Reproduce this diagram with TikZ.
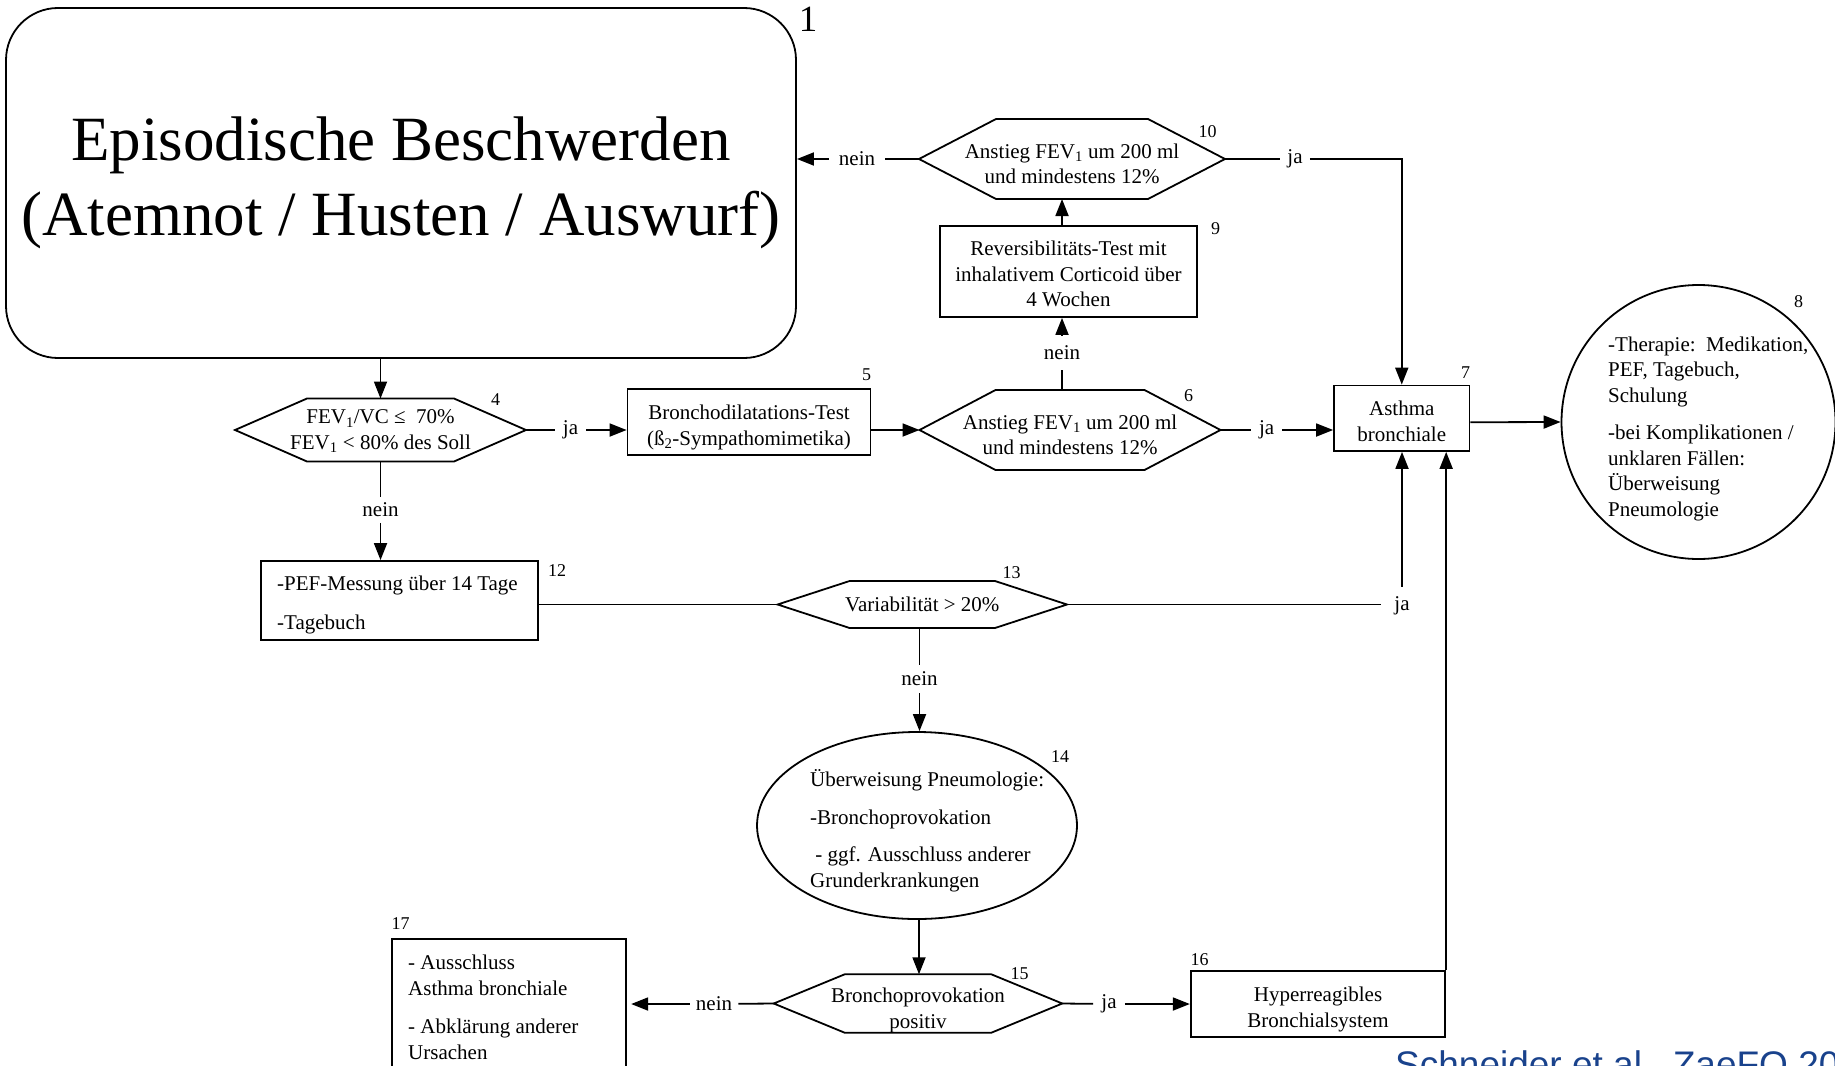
\documentclass[tikz,border=0pt]{standalone}
\usepackage{fontspec}
\setmainfont{Liberation Serif}
\newfontfamily\citefont{Liberation Sans}
\usetikzlibrary{arrows.meta,shapes.geometric}

\definecolor{citeblue}{RGB}{25,66,140}

\newcommand\bodyfont{\fontsize{21}{25.5}\selectfont}
\newcommand\numfont{\fontsize{18}{21}\selectfont}
% invisible strut that lowers a centred text block a little
\newcommand\lineraise[1]{\rule{0pt}{#1}}

% hexagonal decision outline around a (borderless) rectangular node
\newcommand\hexoutline[2]{%
  \draw[conn,line join=miter]
    (#1.west) -- ([xshift=#2]#1.north west) -- ([xshift=-#2]#1.north east)
    -- (#1.east) -- ([xshift=-#2]#1.south east) -- ([xshift=#2]#1.south west) -- cycle;}

\tikzset{
  conn/.style={line width=1.8pt},
  arr/.style={conn,-{Triangle[length=17pt,width=13pt]}},
  boxnode/.style={draw,conn,rectangle,inner sep=0pt,align=center,font=\bodyfont},
  hexcore/.style={rectangle,inner sep=0pt,outer sep=0pt,align=center,font=\bodyfont},
  lefttext/.style={anchor=west,inner sep=0pt,align=left,font=\bodyfont},
  num/.style={inner sep=0pt,font=\numfont},
  yn/.style={inner xsep=8pt,inner ysep=6pt,font=\bodyfont},
}

\begin{document}
\begin{tikzpicture}[x=1pt,y=-1pt]
\useasboundingbox (0,0) rectangle (1835,1065);
\clip (0,0) rectangle (1835,1065);

% start box
\node[draw,conn,rounded corners=52pt,minimum width=790pt,minimum height=350pt,
      inner sep=0pt,align=center,font=\fontsize{63}{75}\selectfont] (box1) at (401,183)
  {Episodische Beschwerden\\(Atemnot / Husten / Auswurf)};
\node[inner sep=0pt,font=\fontsize{37}{40}\selectfont] (n1) at (808,19) {1};

% spirometry decision
\node[hexcore,minimum width=291pt,minimum height=63pt] (hex4) at (380.5,430)
  {\lineraise{16.5pt}FEV\textsubscript{1}/VC ≤\ \ 70\%\\FEV\textsubscript{1} < 80\% des Soll};
\hexoutline{hex4}{72pt}
\node[num] (n4) at (495.5,400) {4};

\node[boxnode,minimum width=243pt,minimum height=66pt] (box5) at (749,422)
  {\lineraise{26pt}Bronchodilatations-Test\\(ß\textsubscript{2}-Sympathomimetika)};
\node[num] (n5) at (866.5,375) {5};

\node[hexcore,minimum width=301pt,minimum height=80pt] (hex6) at (1070,430)
  {\lineraise{24.5pt}Anstieg FEV\textsubscript{1} um 200 ml\\und mindestens 12\%};
\hexoutline{hex6}{76pt}
\node[num] (n6) at (1188.5,395.5) {6};

\node[boxnode,minimum width=257pt,minimum height=91pt] (box9) at (1068.5,271.5)
  {\lineraise{19.5pt}Reversibilitäts-Test mit\\inhalativem Corticoid über\\4 Wochen};
\node[num] (n9) at (1215.5,229) {9};

\node[hexcore,minimum width=306pt,minimum height=80pt] (hex10) at (1072,159)
  {\lineraise{24.5pt}Anstieg FEV\textsubscript{1} um 200 ml\\und mindestens 12\%};
\hexoutline{hex10}{77pt}
\node[num] (n10) at (1207.5,131.5) {10};

\node[boxnode,minimum width=135.5pt,minimum height=65.5pt] (box7) at (1401.75,418.25)
  {\lineraise{20.5pt}Asthma\\bronchiale};
\node[num] (n7) at (1465.5,372.5) {7};

\node[draw,conn,circle,minimum size=274pt,inner sep=0pt] (c8) at (1698.5,422) {};
\node[lefttext] (t8) at (1608,428.5)
  {-Therapie:\ \ Medikation,\\PEF, Tagebuch,\\Schulung\\[12pt]-bei Komplikationen /\\unklaren Fällen:\\Überweisung\\Pneumologie};
\node[num] (n8) at (1798.5,302) {8};

% PEF branch
\node[draw,conn,rectangle,minimum width=277pt,minimum height=79pt,inner sep=0pt] (box12) at (399.5,600.5) {};
\node[lefttext] (t12) at (277,605) {-PEF-Messung über 14 Tage\\[13.5pt]-Tagebuch};
\node[num] (n12) at (557,571) {12};

\node[hexcore,minimum width=289.4pt,minimum height=47pt] (hex13) at (922.3,604.5)
  {Variabilität > 20\%};
\hexoutline{hex13}{72pt}
\node[num] (n13) at (1011.5,572.5) {13};

\node[draw,conn,ellipse,minimum width=320pt,minimum height=187pt,inner sep=0pt] (e14) at (917,825.5) {};
\node[lefttext] (t14) at (810,830.5)
  {Überweisung Pneumologie:\\[12pt]-Bronchoprovokation\\[12pt]\ - ggf. Ausschluss anderer\\Grunderkrankungen};
\node[num] (n14) at (1060,757) {14};

\node[hexcore,minimum width=288.5pt,minimum height=56pt] (hex15) at (918,1003.5)
  {\lineraise{28.5pt}Bronchoprovokation\\positiv};
\hexoutline{hex15}{71pt}
\node[num] (n15) at (1019.5,973.5) {15};

\node[boxnode,minimum width=254.5pt,minimum height=66pt] (box16) at (1318,1003.7)
  {\lineraise{26.5pt}Hyperreagibles\\Bronchialsystem};
\node[num] (n16) at (1199.5,959.5) {16};

\node[draw,conn,rectangle,minimum width=234.5pt,minimum height=151pt,inner sep=0pt] (box17) at (509,1014.5) {};
\node[lefttext] (t17) at (408,1007.5)
  {- Ausschluss\\Asthma bronchiale\\[13pt]- Abklärung anderer\\Ursachen};
\node[num] (n17) at (400.5,924) {17};

% branch labels
\node[yn] (ja1) at (570.5,430) {ja};
\node[yn,inner ysep=5.5pt] (nein4) at (380.5,510) {nein};
\node[yn,inner ysep=10pt] (nein2) at (1062,353) {nein};
\node[yn,inner xsep=10pt] (nein3) at (857,159) {nein};
\node[yn,inner xsep=7pt] (ja2) at (1295,159) {ja};
\node[yn,inner xsep=8pt] (ja3) at (1266.7,430) {ja};
\node[yn,inner xsep=13pt,inner ysep=10pt] (ja4) at (1402,606) {ja};
\node[yn,inner ysep=7pt] (nein5) at (919.5,679) {nein};
\node[yn,inner xsep=6pt] (nein6) at (714,1004) {nein};
\node[yn,inner xsep=8pt] (ja5) at (1109,1004) {ja};

% connectors
\draw[arr] (hex4.north |- box1.south) -- (hex4.north);
\draw[conn] (hex4.east) -- (ja1);
\draw[arr] (ja1) -- (ja1 -| box5.west);
\draw[arr] (hex6.west -| box5.east) -- (hex6.west);
\draw[conn] (hex6.north -| nein2) -- (nein2);
\draw[arr] (nein2) -- (box9.south -| nein2);
\draw[arr] (box9.north -| nein2) -- (hex10.south -| nein2);
\draw[conn] (hex10.west) -- (nein3);
\draw[arr] (nein3) -- (nein3 -| box1.east);
\draw[conn] (hex10.east) -- (ja2);
\draw[arr] (ja2) -| (box7.north);
\draw[conn] (hex6.east) -- (ja3);
\draw[arr] (ja3) -- (ja3 -| box7.west);
\draw[arr] ([yshift=-4pt]box7.east) -- (c8.west);

\draw[conn] (hex4.south) -- (nein4);
\draw[arr] (nein4) -- (nein4 |- box12.north);
\draw[conn] (hex13.west -| box12.east) -- (hex13.west);
\draw[conn] (hex13.east) -- (hex13.east -| ja4.west);
\draw[arr] (ja4) -- (ja4 |- box7.south);
\draw[conn] (hex13.south -| nein5) -- (nein5);
\draw[arr] (nein5) -- (nein5 |- e14.north);
\draw[arr] ([xshift=2pt]e14.south) -- ([xshift=2pt]e14.south |- hex15.north);
\draw[conn] (hex15.west) -- (nein6);
\draw[arr,shorten >=4pt] (nein6) -- (nein6 -| box17.east);
\draw[conn] (hex15.east) -- (ja5);
\draw[arr] (ja5) -- (ja5 -| box16.west);
\draw[arr] (box16.north east) -- (box16.north east |- box7.south);

% source line
\node[anchor=base west,inner sep=0pt,text=citeblue,font=\citefont\fontsize{37}{40}\selectfont] (cite)
  at (1395,1077) {Schneider et al., ZaeFQ 20};
\end{tikzpicture}
\end{document}
